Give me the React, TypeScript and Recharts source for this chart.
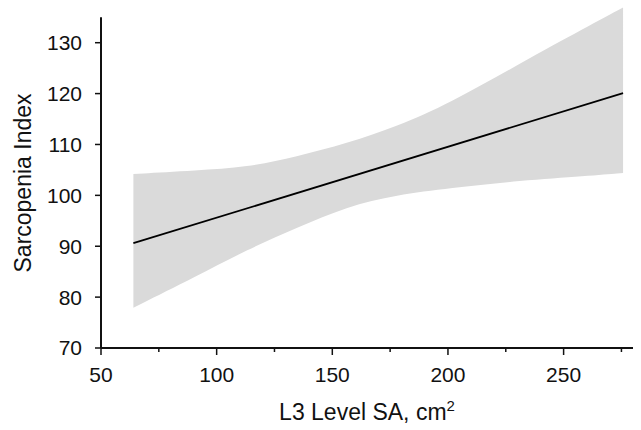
import React from "react";
import { ComposedChart, Area, Line, XAxis, YAxis, Label, ReferenceLine } from "recharts";

// confidence band
const bandX = [64.0, 91.4, 113.0, 134.6, 156.2, 177.8, 200.8, 231.1, 260.0, 275.7];
const bandUpper = [104.2, 104.9, 105.5, 107.6, 110.2, 113.5, 118.1, 125.9, 133.1, 136.9];
const bandLower = [77.9, 84.1, 89.3, 93.6, 97.8, 100.1, 101.4, 102.9, 103.8, 104.4];

// fitted line (two ends)
const lineX = [64.0, 275.7];
const lineY = [90.6, 120.1];

const xTicks = [50, 75, 100, 125, 150, 175, 200, 225, 250, 275];
const yTicks = [70, 80, 90, 100, 110, 120, 130];

const FONT = "'Liberation Sans', Arial, Helvetica, sans-serif";
const INK = "#111";

const bandData = bandX.map((x, i) => ({ x, band: [bandLower[i], bandUpper[i]] }));
const lineData = lineX.map((x, i) => ({ x, y: lineY[i] }));

const XTick = (props: any) => {
  const { x, y, payload } = props;
  const major = payload.value % 50 === 0;
  return (
    <g>
      <line x1={x} x2={x} y1={y} y2={y + (major ? 7 : 4)} stroke={INK} strokeWidth={1.5} />
      {major && (
        <text x={x} y={y + 34} textAnchor="middle" fontSize={21} fontFamily={FONT} fill={INK}>
          {payload.value}
        </text>
      )}
    </g>
  );
};

const XTitle = (props: any) => {
  const vb = props.viewBox;
  const cx = vb.x + vb.width / 2;
  return (
    <text x={cx} y={vb.y + 72} textAnchor="middle" fontSize={23} fontFamily={FONT} fill={INK}>
      L3 Level SA, cm
      <tspan fontSize={15} dy={-9}>2</tspan>
    </text>
  );
};

const YTitle = () => {
  const cy = 183;
  return (
    <text
      x={31}
      y={cy}
      transform={`rotate(-90, 31, ${cy})`}
      textAnchor="middle"
      fontSize={23}
      fontFamily={FONT}
      fill={INK}
    >
      Sarcopenia Index
    </text>
  );
};

export default function App() {
  return (
    <div style={{ position: "absolute", left: 0, top: 0, background: "#fff" }}>
      <ComposedChart width={641} height={430} margin={{ top: 2, right: 8, left: 0, bottom: 0 }}>
        <XAxis
          type="number"
          dataKey="x"
          domain={[50, 280]}
          ticks={xTicks}
          interval={0}
          height={82}
          tickSize={0}
          tickMargin={0}
          tickLine={false}
          tick={<XTick />}
          axisLine={{ stroke: INK, strokeWidth: 2 }}
        >
          <Label content={<XTitle />} />
        </XAxis>
        <YAxis
          type="number"
          domain={[70, 138]}
          ticks={yTicks}
          interval={0}
          width={101}
          axisLine={false}
          tickSize={6}
          tickMargin={13}
          tickLine={{ stroke: INK, strokeWidth: 1.5 }}
          tick={{ fontSize: 21, fontFamily: FONT, fill: INK }}
        >
          <Label content={<YTitle />} />
        </YAxis>
        <Area
          data={bandData}
          dataKey="band"
          type="basis"
          stroke="none"
          fill="#dadada"
          fillOpacity={1}
          isAnimationActive={false}
          activeDot={false}
        />
        <Line
          data={lineData}
          dataKey="y"
          type="linear"
          stroke="#000"
          strokeWidth={1.8}
          dot={false}
          activeDot={false}
          isAnimationActive={false}
        />
        <ReferenceLine
          segment={[{ x: 50, y: 70 }, { x: 50, y: 135 }]}
          stroke={INK}
          strokeWidth={2}
        />
      </ComposedChart>
    </div>
  );
}
